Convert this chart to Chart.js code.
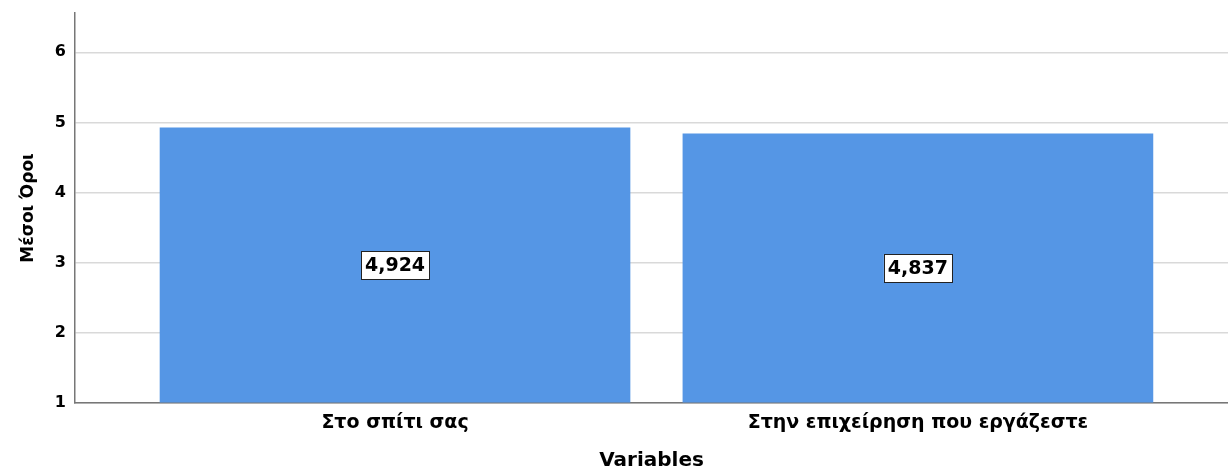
<!DOCTYPE html>
<html>
<head>
<meta charset="utf-8">
<script src="https://cdn.jsdelivr.net/npm/chart.js@4"></script>
<style>
  html, body { margin: 0; padding: 0; background: #fff; }
  #wrap { width: 1228px; height: 470px; }
</style>
</head>
<body>
<div id="wrap"><canvas id="chart"></canvas></div>
<script>
// data
const categories = ['Στο σπίτι σας', 'Στην επιχείρηση που εργάζεστε'];
const means = [4.924, 4.837];
const yTicks = [1, 2, 3, 4, 5, 6];

const FONT = "'DejaVu Sans', Verdana, sans-serif";

// white boxed value labels in the middle of each bar
const valueBoxes = {
    id: 'valueBoxes',
    afterDatasetsDraw(chart) {
        const ctx = chart.ctx;
        const meta = chart.getDatasetMeta(0);
        ctx.save();
        ctx.font = 'bold 19px ' + FONT;
        ctx.textAlign = 'center';
        ctx.textBaseline = 'middle';
        meta.data.forEach((bar, i) => {
            const txt = means[i].toFixed(3).replace('.', ',');
            const cy = (bar.y + bar.base) / 2;
            const w = ctx.measureText(txt).width + 8;
            const h = 28;
            ctx.fillStyle = '#fff';
            ctx.fillRect(bar.x - w / 2, cy - h / 2, w, h);
            ctx.strokeStyle = '#222';
            ctx.lineWidth = 1;
            ctx.strokeRect(Math.round(bar.x - w / 2) + 0.5, Math.round(cy - h / 2) + 0.5, Math.round(w), h);
            ctx.fillStyle = '#000';
            ctx.fillText(txt, bar.x, cy + 1);
        });
        ctx.restore();
    }
};

new Chart(document.getElementById('chart'), {
    type: 'bar',
    data: {
        datasets: [{
            data: means.map((v, i) => ({ x: i, y: v })),
            backgroundColor: '#5596e5',
            borderWidth: 0,
            base: 1,
            barThickness: 470
        }]
    },
    options: {
        responsive: true,
        maintainAspectRatio: false,
        animation: false,
        layout: { padding: { top: 13, right: 0, left: 0, bottom: 0 } },
        plugins: { legend: { display: false }, tooltip: { enabled: false } },
        scales: {
            x: {
                type: 'linear',
                offset: false,
                min: -0.612,
                max: 1.593,
                afterBuildTicks: (axis) => { axis.ticks = categories.map((c, i) => ({ value: i })); },
                afterFit: (axis) => { axis.height = 67; axis.paddingLeft = 0; axis.paddingRight = 0; },
                grid: { display: false },
                border: { display: true, color: '#777', width: 1.5 },
                ticks: {
                    callback: (v) => categories[v],
                    color: '#000',
                    font: { family: FONT, size: 19, weight: 'bold' },
                    padding: 1,
                    maxRotation: 0
                },
                title: {
                    display: true,
                    text: 'Variables',
                    color: '#000',
                    font: { family: FONT, size: 20, weight: 'bold' },
                    padding: { top: 12, bottom: -3 }
                }
            },
            y: {
                min: 1,
                max: 6.56,
                afterBuildTicks: (axis) => { axis.ticks = yTicks.map(v => ({ value: v })); },
                afterFit: (axis) => { axis.width = 75; axis.paddingTop = 0; axis.paddingBottom = 0; },
                grid: { color: '#d9d9d9', lineWidth: 1.5, drawTicks: false },
                border: { display: true, color: '#777', width: 1.5 },
                ticks: {
                    color: '#000',
                    font: { family: FONT, size: 16, weight: 'bold' },
                    padding: 9
                },
                title: {
                    display: true,
                    text: 'Μέσοι Όροι',
                    color: '#000',
                    font: { family: FONT, size: 17, weight: 'bold' },
                    padding: { top: 18, bottom: 4 }
                }
            }
        }
    },
    plugins: [valueBoxes]
});
</script>
</body>
</html>
